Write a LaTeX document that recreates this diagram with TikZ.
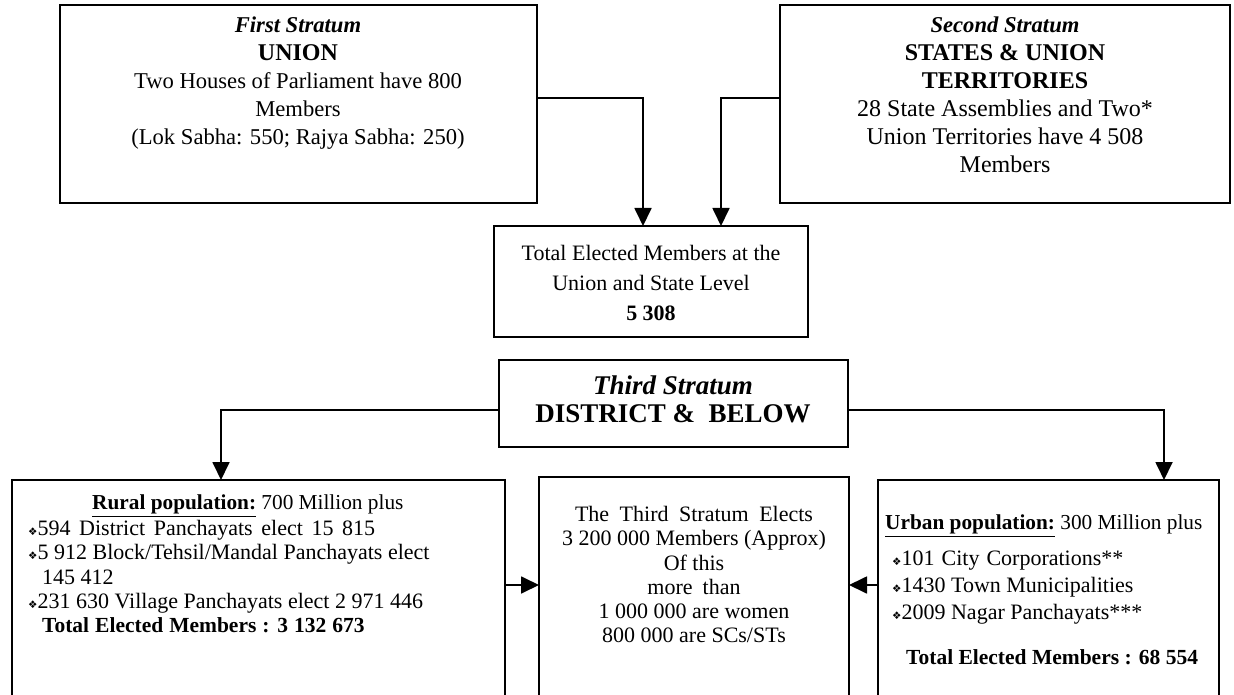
\documentclass[tikz,border=0pt]{standalone}
\usepackage{fontspec}
\setmainfont{Liberation Serif}
\newfontfamily\symfont{DejaVu Sans}
\usetikzlibrary{arrows.meta}
\newcommand{\bul}{{\symfont\fontsize{10.5}{10.5}\selectfont ❖}}
\begin{document}
\begin{tikzpicture}[x=1pt,y=-1pt,
  box/.style={draw=black,line width=2pt},
  conn/.style={draw=black,line width=1.8pt,-{Triangle[length=18pt,width=17pt]}},
  txt/.style={inner sep=0pt,align=center,font=\fontsize{22.6}{28}\selectfont},
  txtl/.style={inner sep=0pt,align=left,font=\fontsize{22}{24.3}\selectfont}]
\useasboundingbox (0,0) rectangle (1234,695);
% boxes
\draw[box] (60,5) rectangle (537,203);
\draw[box] (780,5) rectangle (1230,203);
\draw[box] (494,226) rectangle (808,337);
\draw[box] (499,360) rectangle (848,447);
\draw[box] (12,480) -- (505,480);
\draw[box] (12,478.9) -- (12,700);
\draw[box] (505,478.9) -- (505,700);
\draw[box] (539,477) -- (849,477);
\draw[box] (539,476) -- (539,700);
\draw[box] (849,476) -- (849,700);
\draw[box] (878,480) -- (1219,480);
\draw[box] (878,479) -- (878,700);
\draw[box] (1219,479) -- (1219,700);
% coordinates for connectors
\coordinate (u1) at (537,98);
\coordinate (u2) at (780,98);
\coordinate (tA) at (643,226);
\coordinate (tB) at (721,226);
\coordinate (d1) at (499,410);
\coordinate (d2) at (848,410);
\coordinate (r1) at (221,480);
\coordinate (r2) at (1164,480);
\coordinate (rr) at (505,585);
\coordinate (ml) at (539,585);
\coordinate (mr) at (849,585);
\coordinate (ul) at (878,585);
\draw[conn] (u1) -| (tA);
\draw[conn] (u2) -| (tB);
\draw[conn] (d1) -| (r1);
\draw[conn] (d2) -| (r2);
\draw[conn] (rr) -- (ml);
\draw[conn] (ul) -- (mr);
% texts
\node[txt,anchor=north] (t1) at (298,17) {\textbf{\textit{First Stratum}}\\ {\fontsize{24}{28}\selectfont\textbf{UNION}}\\ Two Houses of Parliament have 800\\ Members\\ (Lok Sabha: 550; Rajya Sabha: 250)};
\node[txt,anchor=north] (t2) at (1005,17) {\textbf{\textit{Second Stratum}}\\ {\fontsize{24}{28}\selectfont\textbf{STATES \& UNION}}\\ {\fontsize{24}{28}\selectfont\textbf{TERRITORIES}}\\ {\fontsize{24}{28}\selectfont 28 State Assemblies and Two*}\\ {\fontsize{24}{28}\selectfont Union Territories have 4 508}\\ {\fontsize{24}{28}\selectfont Members}};
\node[txt,anchor=north,font=\fontsize{22}{30}\selectfont] (t3) at (651,245) {Total Elected Members at the\\ Union and State Level\\ \textbf{5 308}};
\node[txt,anchor=north,font=\fontsize{27}{28}\selectfont] (t4) at (673,376) {\textbf{\textit{Third Stratum}}\\ \textbf{DISTRICT \&\ \ BELOW}};
\node[txt,anchor=north,font=\fontsize{22}{24.3}\selectfont] (t5) at (694,506) {{\spaceskip=10.5pt The Third Stratum Elects}\\ 3 200 000 Members (Approx)\\ Of this\\ {\spaceskip=10pt more than}\\ 1 000 000 are women\\ 800 000 are SCs/STs};
\node[txtl,anchor=north west,font=\fontsize{21.3}{24.3}\selectfont] (t6) at (92,495) {\underline{\textbf{Rural population:}} 700 Million plus};
\node[txtl,anchor=north west] (t7) at (28,520) {\spaceskip=8.6pt\bul594 District Panchayats elect 15 815\\ \bul5 912 Block/Tehsil/Mandal Panchayats elect\\ \hspace*{14pt}145 412\\ \bul231 630 Village Panchayats elect 2 971 446\\ \hspace*{14pt}{\fontsize{21.5}{24.3}\selectfont\spaceskip=6pt\textbf{Total Elected Members : 3 132 673}}};
\node[txtl,anchor=north west,font=\fontsize{21.3}{24.3}\selectfont] (t8) at (885,515) {\underline{\textbf{Urban population:}} 300 Million plus};
\node[txtl,anchor=north west,font=\fontsize{22}{27}\selectfont] (t9) at (892,551) {\spaceskip=7pt\bul101 City Corporations**\\ \bul1430 Town Municipalities\\ \bul2009 Nagar Panchayats***};
\node[txtl,anchor=north west,font=\fontsize{21.5}{24.3}\selectfont] (t10) at (906,649) {\textbf{Total Elected Members : 68 554}};
\end{tikzpicture}
\end{document}
